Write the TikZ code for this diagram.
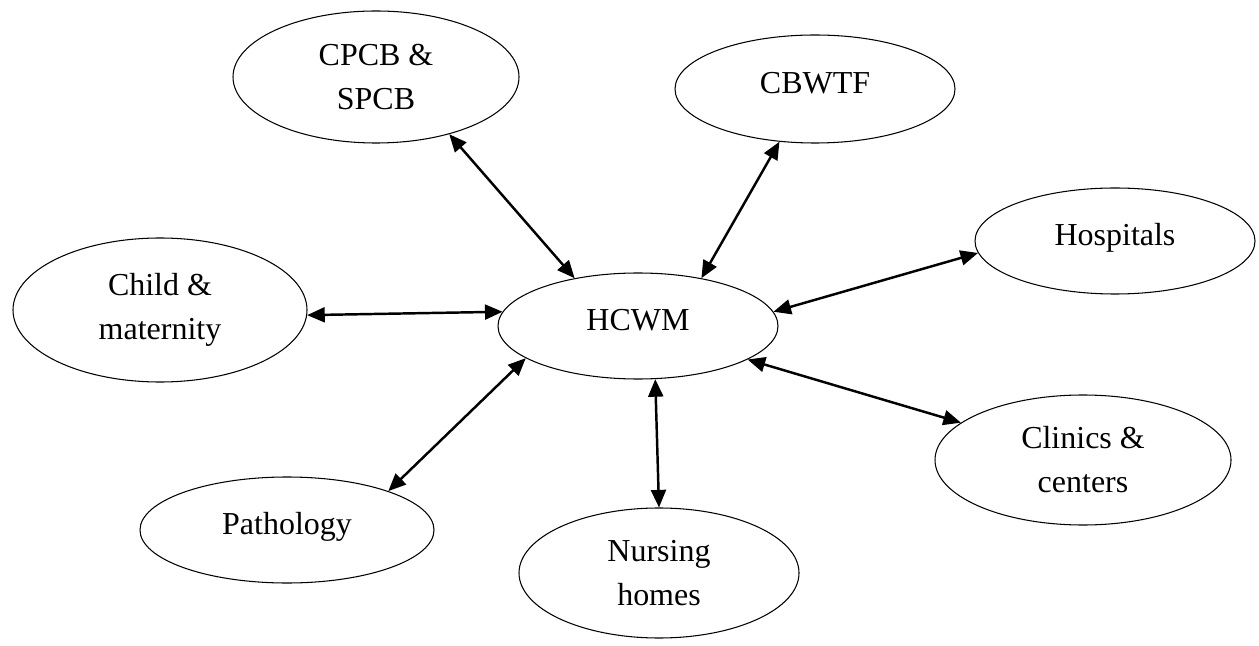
\documentclass[tikz,border=0pt]{standalone}
\usepackage{fontspec}
\setmainfont{Liberation Serif}
\usetikzlibrary{shapes.geometric,arrows.meta}
\begin{document}
\begin{tikzpicture}[font=\fontsize{18.2pt}{25pt}\selectfont,
    unit/.style={ellipse,draw,line width=0.6pt,inner sep=0pt,align=center},
    oneline/.style={text height=12.5pt,text depth=7pt},
    link/.style={line width=1.4pt,{Triangle[length=10pt,width=8.5pt]}-{Triangle[length=10pt,width=8.5pt]}}]
                \useasboundingbox (0,0) rectangle (25.18,12.9);
                \node[unit,minimum width=5.72cm,minimum height=2.64cm] (cpcb) at (7.52,11.36) {CPCB \&\\SPCB};
                \node[unit,oneline,minimum width=5.6cm,minimum height=2.16cm] (cbwtf) at (16.3,11.12) {CBWTF};
                \node[unit,oneline,minimum width=5.6cm,minimum height=2.12cm] (hosp) at (22.3,8.08) {Hospitals};
                \node[unit,minimum width=5.88cm,minimum height=2.88cm] (child) at (3.2,6.7) {Child \&\\maternity};
                \node[unit,oneline,minimum width=5.6cm,minimum height=2.12cm] (hcwm) at (12.76,6.38) {HCWM};
                \node[unit,minimum width=5.92cm,minimum height=2.6cm] (clinic) at (21.66,3.7) {Clinics \&\\centers};
                \node[unit,oneline,minimum width=5.88cm,minimum height=2.12cm] (path) at (5.74,2.3) {Pathology};
                \node[unit,minimum width=5.6cm,minimum height=2.6cm] (nurse) at (13.18,1.44) {Nursing\\homes};
                % links to the centre
                \draw[link] (cpcb.-38) -- (hcwm.143);
                \draw[link] (cbwtf.-124) -- (hcwm.37);
                \draw[link] (hosp.-175) -- (hcwm.6);
                \draw[link] (child.-2) -- (hcwm.174);
                \draw[link] (path.21) -- (hcwm.-164);
                \draw[link] (nurse.90) -- (hcwm.-72);
                \draw[link] (clinic.163) -- (hcwm.-17.5);
            \end{tikzpicture}
\end{document}
